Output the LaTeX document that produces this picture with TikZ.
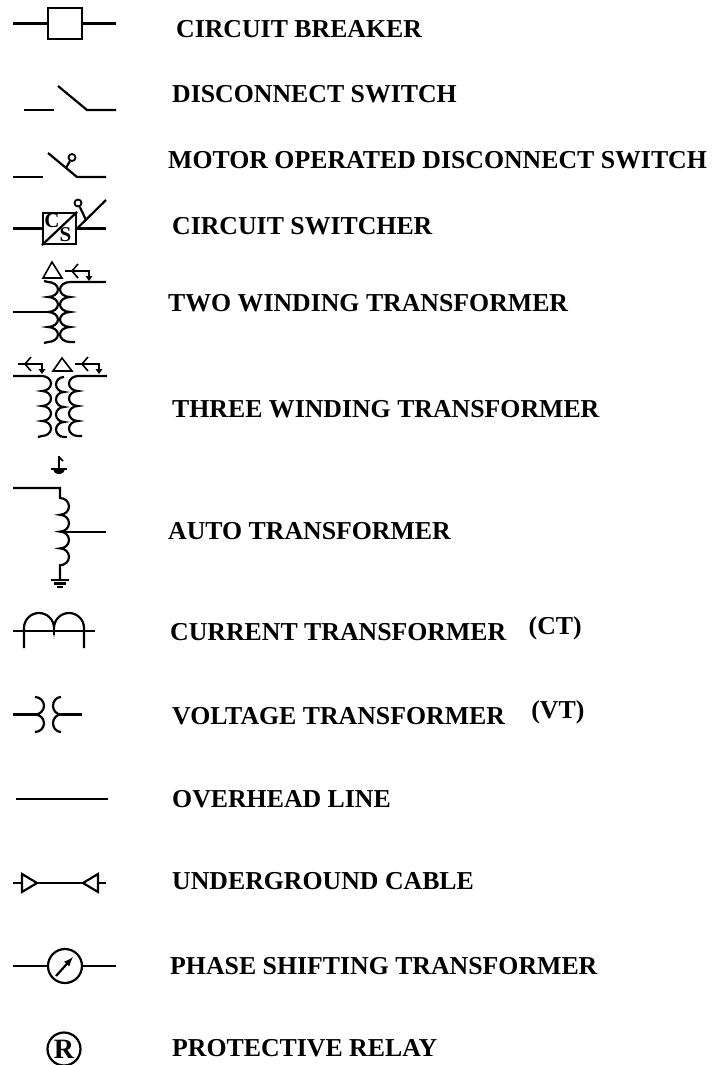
\documentclass[tikz,border=0pt]{standalone}
\usepackage{fontspec}
\setmainfont{Liberation Serif}
\tikzset{>=latex}
\usetikzlibrary{positioning}
\tikzset{
  lbl/.style={anchor=west, inner sep=0pt, font=\bfseries\fontsize{25.8}{30}\selectfont},
  wire/.style={line width=2.2pt},
  thinwire/.style={line width=1.6pt},
  motor/.style={draw, circle, line width=1.8pt, inner sep=0pt, minimum size=7pt},
}
% grounded wye mark, junction at (#1,#2)
\newcommand{\wyegnd}[2]{%
  \draw[thinwire] (#1-7,#2) -- (#1+17,#2) -- (#1+17,#2+6);
  \draw[thinwire] (#1+6,#2-7) -- (#1,#2) -- (#1+6,#2+7);
  \fill (#1+13.5,#2+5) -- (#1+20.5,#2+5) -- (#1+17,#2+10) -- cycle;
}

\begin{document}
\begin{tikzpicture}[x=1pt,y=-1pt]
  \useasboundingbox (0,0) rectangle (714,1065);

  % circuit breaker
  \node[draw, wire, minimum width=34pt, minimum height=31pt, inner sep=0pt] (brk) at (65,23.5) {};
  \draw[wire] (13,23.5) -- (brk.west);
  \draw[wire] (brk.east) -- (116,23.5);
  \node[lbl] (cb) at (176,29) {CIRCUIT BREAKER};

  % disconnect switch
  \draw[wire] (24,110) -- (54,110);
  \draw[wire] (58,86) -- (87,110) -- (116,110);
  \node[lbl] (ds) at (172,94) {DISCONNECT SWITCH};

  % motor operated disconnect switch
  \draw[wire] (13,177) -- (43,177);
  \draw[wire] (48,153) -- (77,177) -- (106,177);
  \node[motor] (mot1) at (72,157.5) {};
  \draw[wire] (66,168) -- (mot1);
  \node[lbl] (mods) at (168,160) {MOTOR OPERATED DISCONNECT SWITCH};

  % circuit switcher
  \node[draw, wire, minimum width=33pt, minimum height=31pt, inner sep=0pt] (csw) at (59.5,228.5) {};
  \draw[wire] (csw.south west) -- (csw.north east);
  \node[inner sep=0pt, font=\bfseries\fontsize{21}{21}\selectfont] (csc) at (52,221) {C};
  \node[inner sep=0pt, font=\bfseries\fontsize{21}{21}\selectfont] (css) at (65.5,235) {S};
  \draw[wire] (13,228.5) -- (csw.west);
  \draw[wire] (csw.east) -- (106,228.5);
  \draw[wire] (csw.east) -- (106,200);
  \node[motor] (mot2) at (78,203) {};
  \draw[wire] (86,220) -- (mot2);
  \node[lbl] (cs) at (172,226) {CIRCUIT SWITCHER};

  % two winding transformer
  \draw[thinwire] (52,262) -- (62,278) -- (43,278) -- cycle;
  \wyegnd{72}{271}
  \draw[wire] (44,281) -- (48,282) foreach \k in {1,...,4} {arc (-90:90:10 and 7.5)} -- (44,343);
  \draw[wire] (106,282) -- (70,282) foreach \k in {1,...,4} {arc (-90:-270:10 and 7.5)} -- (75,342);
  \draw[wire] (13,312) -- (48,312);
  \node[lbl] (twt) at (168,303) {TWO WINDING TRANSFORMER};

  % three winding transformer
  \wyegnd{25}{364}
  \draw[thinwire] (62,358) -- (72,371) -- (53,371) -- cycle;
  \wyegnd{82}{364}
  \draw[wire] (13,376) -- (42,376) foreach \k in {1,...,4} {arc (-90:90:9 and 7.5)} -- (38,437);
  \draw[wire] (64,377) foreach \k in {1,...,4} {arc (-90:-270:8 and 7.5)} -- (67,437);
  \draw[wire] (107,376) -- (78,376) foreach \k in {1,...,4} {arc (-90:-270:9 and 7.5)} -- (82,436);
  \node[lbl] (thwt) at (172,409) {THREE WINDING TRANSFORMER};

  % auto transformer
  \draw[wire] (59,456) -- (59,474);
  \draw[thinwire] (59,457) -- (63,461);
  \draw[wire] (51,469) -- (67,469);
  \fill (53,469) arc (180:0:6 and 5) -- cycle;
  \draw[wire] (13,488) -- (60,488) -- (60,498) foreach \k in {1,...,4} {arc (-90:90:9 and 8.4)} -- (60,580);
  \draw[wire] (60,531.6) -- (106,531.6);
  \draw[wire] (51,580) -- (69,580);
  \draw[wire] (54,583.5) -- (66,583.5);
  \draw[wire] (57,587) -- (63,587);
  \node[lbl] (att) at (168,531) {AUTO TRANSFORMER};

  % current transformer
  \draw[wire] (13,631) -- (95,631);
  \draw[wire] (24,648) -- (24,628) arc (180:360:15) arc (180:360:15) -- (84,648);
  \draw[wire] (54,628) -- (54,635);
  \node[lbl] (ctr) at (170,632) {CURRENT TRANSFORMER};
  \node[lbl, right=22pt of ctr, yshift=4pt] (ctab) {(CT)};

  % voltage transformer
  \draw[wire] (13,714.5) -- (37,714.5);
  \draw[wire] (35,697) arc (-90:90:9 and 8.75) arc (-90:90:9 and 8.75);
  \draw[wire] (61,697) arc (-90:-270:8 and 8.75) arc (-90:-270:8 and 8.75);
  \draw[wire] (61,714.5) -- (82,714.5);
  \node[lbl] (vtr) at (172,716) {VOLTAGE TRANSFORMER};
  \node[lbl, right=26pt of vtr, yshift=4pt] (vtab) {(VT)};

  % overhead line
  \draw[wire] (16,799) -- (108,799);
  \node[lbl] (ohl) at (172,799) {OVERHEAD LINE};

  % underground cable
  \draw[wire] (13,883) -- (22,883);
  \draw[wire] (37,883) -- (83,883);
  \draw[wire] (98,883) -- (106,883);
  \draw[wire] (22,874) -- (37,883) -- (22,892) -- cycle;
  \draw[wire] (98,874) -- (83,883) -- (98,892) -- cycle;
  \node[lbl] (ugc) at (172,881) {UNDERGROUND CABLE};

  % phase shifting transformer
  \node[draw, circle, wire, minimum size=34pt, inner sep=0pt] (psc) at (65,966) {};
  \draw[wire] (13,966) -- (psc.west);
  \draw[wire] (psc.east) -- (116,966);
  \draw[wire,->] (56,976) -- (73,957);
  \node[lbl] (pst) at (170,966) {PHASE SHIFTING TRANSFORMER};

  % protective relay
  \node[draw, circle, wire, minimum size=33pt, inner sep=0pt, font=\bfseries\fontsize{28}{28}\selectfont] (rly) at (64,1049) {R};
  \node[lbl] (prl) at (172,1048) {PROTECTIVE RELAY};
\end{tikzpicture}
\end{document}
